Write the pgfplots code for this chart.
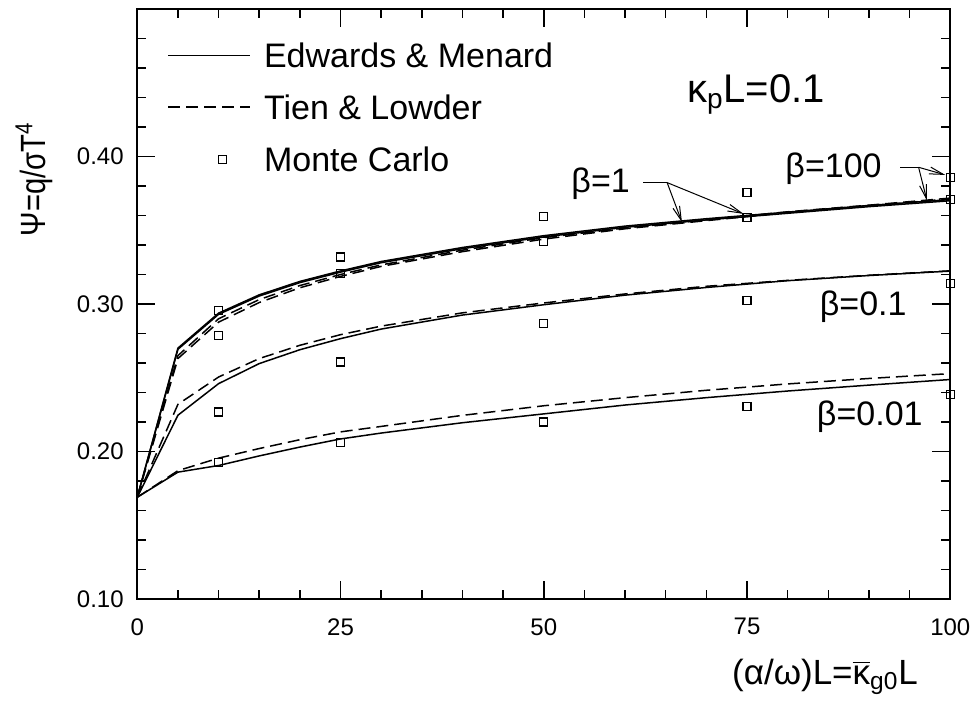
\documentclass[border=0pt]{standalone}
\usepackage{fontspec}
\setmainfont{Liberation Sans}
\usepackage{pgfplots}
\pgfplotsset{compat=1.18}
\usetikzlibrary{arrows.meta}
\pgfplotsset{mclegend/.style={legend image code/.code={\path[draw=none,fill=none] (0pt,-1pt) rectangle (41pt,1pt); \draw[##1] plot coordinates {(27.35pt,-0.4pt)};}}}
\begin{document}
\begin{tikzpicture}
\path[use as bounding box] (-68.65pt,-52.5pt) rectangle (419.35pt,299.5pt);
\begin{axis}[
  at={(0,0)}, anchor=south west, scale only axis,
  width=406.5pt, height=295pt,
  xmin=0, xmax=100, ymin=0.10, ymax=0.50,
  clip=false,
  xtick={0,25,50,75,100}, minor xtick={5,10,15,20,30,35,40,45,55,60,65,70,80,85,90,95},
  ytick={0.1,0.2,0.3,0.4},
  minor ytick={0.12,0.14,0.16,0.18,0.22,0.24,0.26,0.28,0.32,0.34,0.36,0.38,0.42,0.44,0.46,0.48},
  tick align=inside, xtick pos=both, ytick pos=both,
  major tick length=9pt, minor tick length=4.5pt,
  axis line style={line width=1pt},
  tick style={line width=0.75pt, black},
  minor tick style={line width=0.75pt, black},
  /pgf/number format/assume math mode=true,
  yticklabel style={/pgf/number format/fixed, /pgf/number format/fixed zerofill, /pgf/number format/precision=2, xshift=-3.3pt},
  ticklabel style={font=\fontsize{12pt}{14pt}\selectfont},
  xticklabel style={yshift=-6.2pt},
  xlabel={(α/ω)L=$\overline{\mbox{κ}}$\textsubscript{g0}L},
  ylabel={\scalebox{1}[1.2]{Ψ=q/σT\textsuperscript{4}}},
  xlabel style={font=\fontsize{17.5pt}{20pt}\selectfont, inner sep=0pt, at={(axis description cs:0.9606,-0.1441)}, anchor=base east},
  ylabel style={font=\fontsize{14.6pt}{17pt}\selectfont, inner sep=0pt, at={(axis description cs:-0.1135,0.614)}, anchor=base west},
  legend cell align=left,
  legend style={draw=none, fill=none, inner sep=0pt,
    at={(axis cs:3.65,0.4794)}, anchor=north west,
    font=\fontsize{17pt}{20pt}\selectfont,
    row sep=10.35pt, column sep=6.6pt,
    nodes={inner sep=0pt, text height=14pt, text depth=1.5pt}},
  legend image code/.code={\draw[#1] (0pt,0pt) -- (41pt,0pt);},
]
% beta = 0.01
\addplot[black, line width=0.75pt] coordinates {
 (0,0.169) (5,0.186) (10,0.1905) (15,0.197) (20,0.203) (25,0.2085) (30,0.2125)
 (40,0.2195) (50,0.2255) (60,0.2315) (70,0.2365) (80,0.2410) (90,0.2450) (100,0.2488)};
\addlegendentry{Edwards \& Menard}
\addplot[black, line width=0.75pt, dash pattern=on 6pt off 3pt] coordinates {
 (0,0.169) (5,0.187) (10,0.1955) (15,0.202) (20,0.208) (25,0.2133) (30,0.217)
 (40,0.2245) (50,0.231) (60,0.2365) (70,0.2415) (80,0.2458) (90,0.2495) (100,0.2528)};
\addlegendentry{Tien \& Lowder}
\addplot[black, only marks, mark=square, mark size=2pt, mark options={line width=0.6pt}, mclegend] coordinates {
 (10,0.2957) (10,0.2787) (10,0.2268) (10,0.1923)
 (25,0.3318) (25,0.3209) (25,0.2607) (25,0.2061)
 (50,0.3595) (50,0.3426) (50,0.2867) (50,0.2200)
 (75,0.3758) (75,0.3584) (75,0.3024) (75,0.2307)
 (100,0.3855) (100,0.3706) (100,0.3137) (100,0.2388)};
\addlegendentry{Monte Carlo}
% beta = 0.1
\addplot[black, line width=0.75pt, forget plot] coordinates {
 (0,0.169) (5,0.2246) (10,0.246) (15,0.2596) (20,0.269) (25,0.2765) (30,0.283)
 (40,0.2925) (50,0.2995) (60,0.3060) (70,0.3112) (80,0.3158) (90,0.3193) (100,0.3223)};
\addplot[black, line width=0.75pt, dash pattern=on 6pt off 3pt, forget plot] coordinates {
 (0,0.169) (5,0.232) (10,0.2505) (15,0.263) (20,0.272) (25,0.2792) (30,0.285)
 (40,0.294) (50,0.3007) (60,0.3068) (70,0.312) (80,0.316) (90,0.3195) (100,0.3225)};
% beta = 1
\addplot[black, line width=0.75pt, forget plot] coordinates {
 (0,0.169) (5,0.2693) (10,0.293) (15,0.3054) (20,0.3145) (25,0.3216) (30,0.328)
 (40,0.3375) (50,0.3455) (60,0.352) (70,0.357) (80,0.3615) (90,0.366) (100,0.370)};
\addplot[black, line width=0.75pt, dash pattern=on 6pt off 3pt, forget plot] coordinates {
 (0,0.169) (5,0.263) (10,0.2877) (15,0.301) (20,0.311) (25,0.3187) (30,0.3255)
 (40,0.3355) (50,0.344) (60,0.351) (70,0.3565) (80,0.362) (90,0.3665) (100,0.3713)};
% beta = 100
\addplot[black, line width=0.75pt, forget plot] coordinates {
 (0,0.169) (5,0.2701) (10,0.2938) (15,0.3062) (20,0.3153) (25,0.3224) (30,0.3288)
 (40,0.3383) (50,0.3463) (60,0.3528) (70,0.3578) (80,0.3623) (90,0.3668) (100,0.3708)};
\addplot[black, line width=0.75pt, dash pattern=on 6pt off 3pt, forget plot] coordinates {
 (0,0.169) (5,0.265) (10,0.290) (15,0.303) (20,0.3125) (25,0.320) (30,0.3265)
 (40,0.3365) (50,0.345) (60,0.3515) (70,0.357) (80,0.3625) (90,0.367) (100,0.3718)};
% annotations
\node[anchor=base east, inner sep=0pt, font=\fontsize{20pt}{23pt}\selectfont] at (axis cs:84.62,0.4367) {κ\textsubscript{p}L=0.1};
\begin{scope}[font=\fontsize{17pt}{20pt}\selectfont]
\node[anchor=base east, inner sep=0pt] at (axis cs:60.63,0.3758) {β=1};
\node[anchor=base east, inner sep=0pt] at (axis cs:91.6,0.3859) {β=100};
\node[anchor=base east, inner sep=0pt] at (axis cs:94.67,0.2923) {β=0.1};
\node[anchor=base east, inner sep=0pt] at (axis cs:96.64,0.2178) {β=0.01};
\end{scope}
\begin{scope}[line width=0.5pt, -{Straight Barb[length=7pt,width=3.5pt]}]
\draw[-] (axis cs:62.22,0.3823) -- (axis cs:65.17,0.3823);
\draw (axis cs:65.17,0.3823) -- (axis cs:66.99,0.3555);
\draw (axis cs:65.17,0.3823) -- (axis cs:74.57,0.3611);
\draw[-] (axis cs:93.85,0.3927) -- (axis cs:96.10,0.3927);
\draw (axis cs:96.10,0.3927) -- (axis cs:99.38,0.3875);
\draw (axis cs:96.10,0.3927) -- (axis cs:97.13,0.3701);
\end{scope}
\end{axis}
\end{tikzpicture}
\end{document}
